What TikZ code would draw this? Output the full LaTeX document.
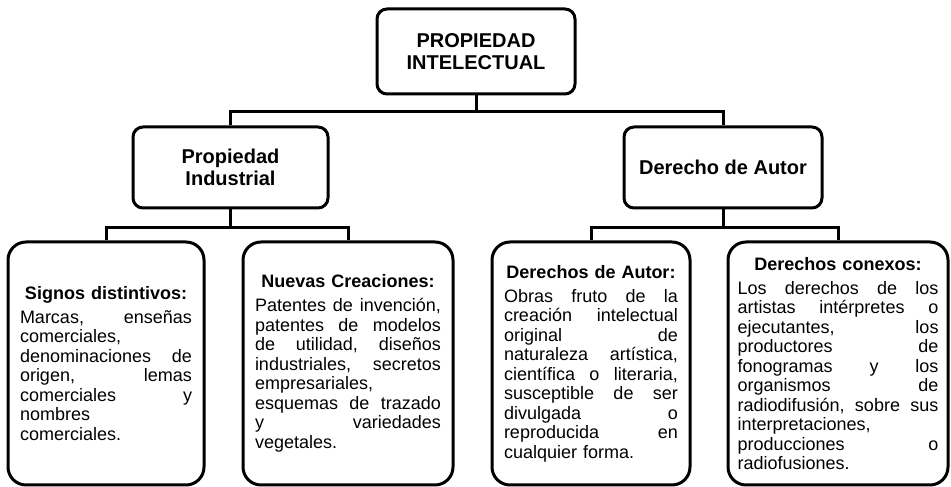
\documentclass[tikz,border=0pt]{standalone}
\usepackage{fontspec}
\setmainfont{Liberation Sans}

\begin{document}
\begin{tikzpicture}[x=1pt, y=1pt,
		root/.style={
			rectangle,
			rounded corners=10pt,
			draw=black,
			line width=3pt,
			minimum width=198pt,
			minimum height=85pt,
			align=center,
			font=\fontsize{20}{22}\selectfont\bfseries
		},
		branch/.style={
			root,
			minimum height=81pt
		},
		leaf/.style={
			rectangle,
			rounded corners=18pt,
			draw=black,
			line width=3pt,
			minimum height=243pt,
			align=left,
			font=\fontsize{18}{19.5}\selectfont
		},
		link/.style={
			line width=3pt
		}
	]
	\useasboundingbox (0,0) rectangle (951,487);
	
	\node[root] (pint) at (476,435.5) {PROPIEDAD\\INTELECTUAL};
	\node[branch, minimum width=195pt] (pind) at (230.5,319.5) {Propiedad\\Industrial};
	\node[branch] (dau) at (723,319.5) {Derecho de Autor};
	
	\node[leaf, minimum width=196pt, text width=172pt] (signos) at (106,123.5) {%
		\makebox[\hsize]{\bfseries Signos distintivos:}\\[4.5pt]
		Marcas, \hfill enseñas\\
		comerciales,\\
		denominaciones \hfill de\\
		origen, \hfill lemas\\
		comerciales \hfill y\\
		nombres\\
		comerciales.};
	\node[leaf, minimum width=210pt, text width=186pt] (nuevas) at (348,123.5) {%
		\makebox[\hsize]{\bfseries Nuevas Creaciones:}\\[4.5pt]
		Patentes \hfill de \hfill invención,\\
		patentes \hfill de \hfill modelos\\
		de \hfill utilidad, \hfill diseños\\
		industriales, \hfill secretos\\
		empresariales,\\
		esquemas \hfill de \hfill trazado\\
		y \hfill variedades\\
		vegetales.};
	\node[leaf, minimum width=198pt, text width=174pt] (dautor) at (591,123.5) {%
		\makebox[\hsize]{\bfseries Derechos de Autor:}\\[4.5pt]
		Obras \hfill fruto \hfill de \hfill la\\
		creación \hfill intelectual\\
		original \hfill de\\
		naturaleza \hfill artística,\\
		científica \hfill o \hfill literaria,\\
		susceptible \hfill de \hfill ser\\
		divulgada \hfill o\\
		reproducida \hfill en\\
		cualquier forma.};
	\node[leaf, minimum width=220pt, text width=201pt] (conexos) at (838,123.5) {%
		\makebox[\hsize]{\bfseries Derechos conexos:}\\[4.5pt]
		Los \hfill derechos \hfill de \hfill los\\
		artistas \hfill intérpretes \hfill o\\
		ejecutantes, \hfill los\\
		productores \hfill de\\
		fonogramas \hfill y \hfill los\\
		organismos \hfill de\\
		radiodifusión, \hfill sobre \hfill sus\\
		interpretaciones,\\
		producciones \hfill o\\
		radiofusiones.};
	
	% tree lines
	\draw[link] (pint.south) -- ++(0,-16) coordinate (hub);
	\draw[link] (pind.north) |- (hub) -| (dau.north);
	\draw[link] (pind.south) -- ++(0,-18) coordinate (hubl);
	\draw[link] (signos.north) |- (hubl) -| (nuevas.north);
	\draw[link] (dau.south) -- ++(0,-18) coordinate (hubr);
	\draw[link] (dautor.north) |- (hubr) -| (conexos.north);
	
\end{tikzpicture}
\end{document}
